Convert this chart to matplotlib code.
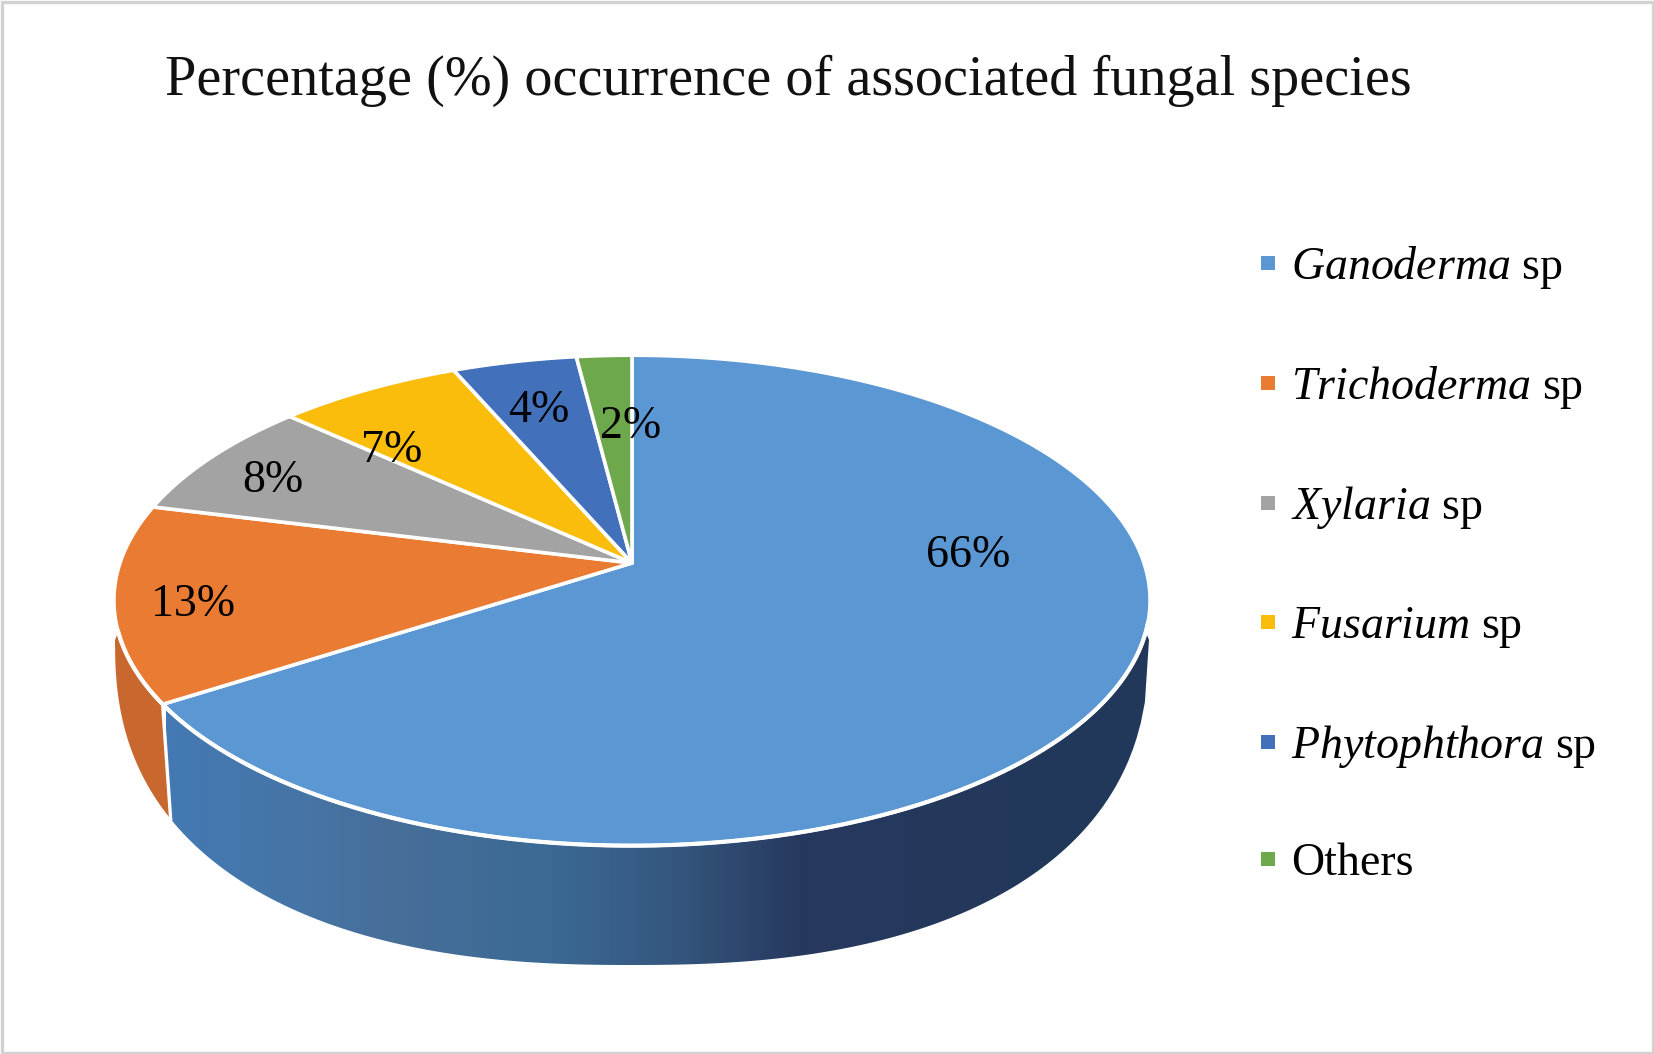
import numpy as np
import matplotlib
matplotlib.use("Agg")
import matplotlib.pyplot as plt
from matplotlib.colors import LinearSegmentedColormap
from matplotlib.lines import Line2D
from matplotlib.patches import Polygon, Rectangle

plt.rcParams['font.family'] = ['Liberation Serif', 'DejaVu Serif']
plt.rcParams['mathtext.fontset'] = 'custom'
plt.rcParams['mathtext.rm'] = 'Liberation Serif'
plt.rcParams['mathtext.it'] = 'Liberation Serif:italic'

# ---- data ----
species = [r'$\it{Ganoderma}$ sp', r'$\it{Trichoderma}$ sp', r'$\it{Xylaria}$ sp',
           r'$\it{Fusarium}$ sp', r'$\it{Phytophthora}$ sp', 'Others']
shares = [65.9, 13.0, 7.9, 6.7, 4.5, 2.0]
share_labels = ['66%', '13%', '8%', '7%', '4%', '2%']
title = 'Percentage (%) occurrence of associated fungal species'

# ---- styles / layout ----
colors = ['#5b97d3', '#ea7b32', '#a3a3a3', '#fbbd0c', '#4370bb', '#6ea84c']
W, H = 1654, 1054
VX, VY = 632.0, 563.0      # apex of the pie on the canvas
RA, RB, K = 512.0, 239.5, 0.1527   # perspective disk mapping
BCX, BCY, BRX, BRY, BP = 632.0, 640.0, 517.0, 325.0, 2.4  # lower rim (super-ellipse)
LABEL_DY = 5
# label placement: angle clockwise from top, fraction of radius
label_polar = [(85.7, .663), (259.8, .851), (297.4, .836),
               (316.1, .733), (344.4, .756), (359.8, .647)]
FS = 33


def rim(theta_deg, r=1.0):
    t = np.radians(np.asarray(theta_deg, dtype=float))
    x, y = r * np.sin(t), r * np.cos(t)
    d = 1 + K * y
    return VX + RA * x / d, VY - RB * y / d


def lower(x_from, x_to, n=240):
    # lower rim, from x_from to x_to along the bottom of the curve
    xs = np.linspace(x_from, x_to, n)
    u = np.clip(np.abs((xs - BCX) / BRX), 0, 1)
    ys = BCY + BRY * (1 - u ** BP) ** (1 / BP)
    return xs, ys


fig = plt.figure(figsize=(W / 100, H / 100), dpi=100, facecolor='white')
ax = fig.add_axes([0, 0, 1, 1])

# cumulative wedge boundaries, clockwise from the top
edges = np.concatenate([[0], np.cumsum(shares)]) * 360.0 / np.sum(shares)
split = edges[1]

# ---- side wall ----
SIDE_RIGHT, SIDE_LEFT = 106.0, 254.0

tt = np.linspace(SIDE_RIGHT, split, 200)
rx, ry = rim(tt)
sx = rx[-1] + 8
lx, ly = lower(sx, BCX + BRX)
blue_side = np.vstack([np.column_stack([rx, ry]), np.column_stack([lx, ly])])
gx0, gx1 = sx - 5, 1155
stops = [(165, '#4479b3'), (300, '#4675a6'), (380, '#476f9a'), (545, '#3b6a94'),
         (673, '#35577f'), (800, '#27395f'), (1060, '#22385a'), (1155, '#22385a')]
cmap = LinearSegmentedColormap.from_list(
    'side', [(np.clip((p - gx0) / (gx1 - gx0), 0, 1), c) for p, c in
             [(gx0, '#4479b3')] + stops[1:]])
grad = np.linspace(0, 1, 512)[None, :]
im = ax.imshow(grad, cmap=cmap, extent=(gx0, gx1, 1000, 600), aspect='auto', zorder=1)
poly = Polygon(blue_side, closed=True, transform=ax.transData, fc='none', ec='none')
ax.add_patch(poly)
im.set_clip_path(poly)

tt = np.linspace(split, SIDE_LEFT, 60)
rx, ry = rim(tt)
lx, ly = lower(BCX - BRX, sx)
orange_side = np.vstack([np.column_stack([rx, ry]), np.column_stack([lx, ly])])
ax.add_patch(Polygon(orange_side, closed=True, fc='#c8682f', ec='none', zorder=1))
# white seam between the two wall parts
bx, by = rim(split)
ax.plot([bx, sx], [by, lower(sx, sx, 1)[1][0]], color='white', lw=2.4, zorder=2)

# ---- top face ----
for v0, v1, c in zip(edges[:-1], edges[1:], colors):
    tt = np.linspace(v0, v1, 200)
    x, y = rim(tt)
    pts = np.vstack([[VX, VY], np.column_stack([x, y])])
    ax.add_patch(Polygon(pts, closed=True, fc=c, ec='white', lw=2.6, joinstyle='round', zorder=3))

# white rim along the front, where the top meets the wall
tt = np.linspace(SIDE_RIGHT - 2, SIDE_LEFT, 200)
x, y = rim(tt)
ax.plot(x, y, color='white', lw=3.0, zorder=4)

# ---- data labels ----
for s, (th, r) in zip(share_labels, label_polar):
    x, y = rim(th, r)
    ax.text(x, y + LABEL_DY, s, fontsize=FS, ha='center', va='center', color='black', zorder=5)

# ---- title ----
ax.text(788, 81, title, fontsize=40.5, ha='center', va='center', color='#111111')

# ---- legend ----
handles = [Line2D([], [], ls='none', marker='s', ms=10, mfc=c, mec=c, mew=0) for c in colors]
ax.legend(handles, species, loc='upper left', bbox_to_anchor=(1247 / W, 1 - 244 / H),
          bbox_transform=fig.transFigure, frameon=False, fontsize=FS,
          labelspacing=1.597, handlelength=0.9, handletextpad=0.06, borderpad=0, borderaxespad=0)

# ---- frame ----
ax.add_patch(Rectangle((1.5, 1.5), W - 3, H - 3, fc='none', ec='#d2d2d2', lw=2.4, zorder=6))

ax.set_xlim(0, W)
ax.set_ylim(H, 0)
ax.axis('off')
fig.savefig('out.png', dpi=100, facecolor='white')
